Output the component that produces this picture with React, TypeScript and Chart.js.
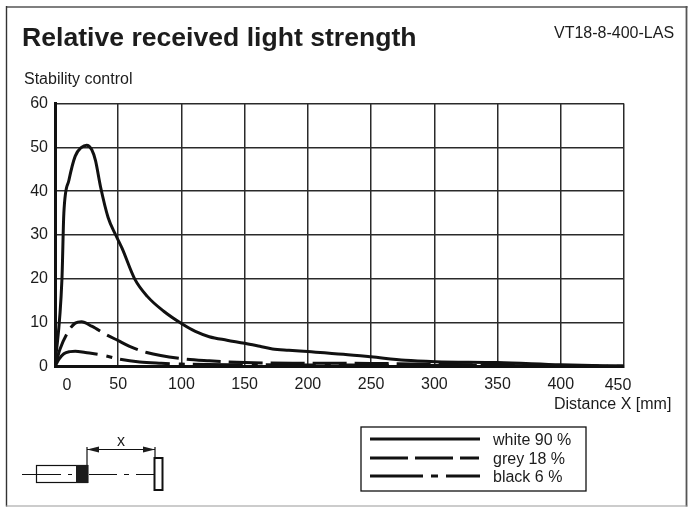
import React, { useEffect, useRef } from "react";
import { Chart, registerables, Plugin } from "chart.js";

Chart.register(...registerables);

const whiteX = [0, 5.5, 7, 11, 16, 21, 25, 29, 32, 36, 42, 48, 53, 63, 73, 86, 100, 111, 122, 136, 150, 162, 172, 185, 200, 228, 250, 277, 301, 350, 400, 450];
const whiteY = [0, 20, 35, 42.5, 48, 50, 50.5, 49.5, 47, 41, 34, 30, 27, 20, 16, 12.6, 9.8, 8, 6.8, 6, 5.3, 4.6, 4, 3.7, 3.4, 2.8, 2.2, 1.4, 1.1, 0.9, 0.4, 0.1];
const greyX = [0, 4, 10.5, 16, 21, 29, 41, 50, 59, 72.5, 100, 122, 150, 200, 250, 300, 350, 400, 450];
const greyY = [0, 4, 8, 9.9, 10.2, 9.2, 7.2, 5.9, 4.6, 3.2, 1.8, 1.3, 0.9, 0.75, 0.7, 0.5, 0.3, 0.15, 0.05];
const blackX = [0, 3, 7, 12, 16, 24, 36, 50, 67, 84, 100, 150, 200, 300, 450];
const blackY = [0, 1.6, 2.9, 3.4, 3.5, 3.2, 2.7, 1.75, 1.05, 0.75, 0.55, 0.4, 0.35, 0.25, 0.05];
const xTicks = [0, 50, 100, 150, 200, 250, 300, 350, 400, 450];
const yTicks = [0, 10, 20, 30, 40, 50, 60];
const seriesNames = ["white 90 %", "grey 18 %", "black 6 %"];
const titleText = "Relative received light strength";
const modelText = "VT18-8-400-LAS";
const yAxisText = "Stability control";
const xAxisText = "Distance X [mm]";

const INK = "#1c1c1c";
const GRID = "#2a2a2a";
const DASHES = [[], [34, 8], [50, 9, 6, 8]];
const LEGEND_DASHES = [[], [38, 7, 38, 7, 19], [53, 8, 7, 8, 34]];
const FONT = "Liberation Sans, Arial, sans-serif";

const zip = (xs: number[], ys: number[]) => xs.map((x, i) => ({ x, y: ys[i] }));

const segment = (c: CanvasRenderingContext2D, color: string, w: number, x1: number, y1: number, x2: number, y2: number) => {
  c.strokeStyle = color;
  c.lineWidth = w;
  c.beginPath();
  c.moveTo(x1, y1);
  c.lineTo(x2, y2);
  c.stroke();
};

const decor: Plugin<"line"> = {
  id: "decor",
  beforeDraw(chart) {
    const c = chart.ctx;
    c.save();
    c.fillStyle = "#fff";
    c.fillRect(0, 0, chart.width, chart.height);
    segment(c, "#555", 1.6, 6, 7, 687.5, 7);
    segment(c, "#333", 1.4, 6.5, 6, 6.5, 506.5);
    segment(c, "#555", 1.8, 686.5, 6, 686.5, 506.5);
    segment(c, "#999", 1.2, 6, 506, 687.5, 506);
    c.restore();
  },
  afterDraw(chart) {
    const c = chart.ctx;
    const sx = chart.scales.x;
    c.save();
    c.fillStyle = INK;
    c.textBaseline = "alphabetic";
    c.textAlign = "left";
    c.font = `bold 26.6px ${FONT}`;
    c.fillText(titleText, 22, 46);
    c.font = `16px ${FONT}`;
    c.fillText(modelText, 554, 38);
    c.fillText(yAxisText, 24, 84);
    c.fillText(xAxisText, 554, 409);
    // end tick labels sit inward of their gridlines
    c.textAlign = "center";
    c.fillText(String(xTicks[0]), sx.getPixelForValue(xTicks[0]) + 12, 389.5);
    c.fillText(String(xTicks[xTicks.length - 1]), sx.getPixelForValue(xTicks[xTicks.length - 1]) - 6, 389.5);

    // legend
    c.textAlign = "left";
    c.strokeStyle = "#111";
    c.lineWidth = 1.3;
    c.strokeRect(361, 427, 225, 64);
    const rows = [439, 458, 476];
    seriesNames.forEach((name, i) => {
      c.beginPath();
      c.setLineDash(LEGEND_DASHES[i]);
      c.lineWidth = 2.8;
      c.moveTo(370, rows[i]);
      c.lineTo(480, rows[i]);
      c.stroke();
      c.setLineDash([]);
      c.font = `16px ${FONT}`;
      c.fillText(name, 493, rows[i] + 6);
    });

    // sensor sketch
    c.strokeStyle = "#111";
    c.lineWidth = 1.2;
    c.strokeRect(36.5, 465.5, 51, 17);
    c.fillStyle = "#1c1c1c";
    c.fillRect(76, 465, 12.5, 18);
    c.beginPath();
    c.moveTo(22, 474.5); c.lineTo(61, 474.5);
    c.moveTo(68, 474.5); c.lineTo(72, 474.5);
    c.moveTo(89, 474.5); c.lineTo(117, 474.5);
    c.moveTo(124, 474.5); c.lineTo(129, 474.5);
    c.moveTo(136, 474.5); c.lineTo(154, 474.5);
    c.moveTo(87, 465); c.lineTo(87, 447);
    c.moveTo(155, 457); c.lineTo(155, 447);
    c.moveTo(87, 449.5); c.lineTo(155, 449.5);
    c.stroke();
    c.lineWidth = 2;
    c.strokeRect(154.5, 458, 8, 32);
    c.fillStyle = "#1c1c1c";
    c.beginPath();
    c.moveTo(87, 449.5); c.lineTo(99, 446.5); c.lineTo(99, 452.5); c.closePath();
    c.moveTo(155, 449.5); c.lineTo(143, 446.5); c.lineTo(143, 452.5); c.closePath();
    c.fill();
    c.textAlign = "center";
    c.font = `16px ${FONT}`;
    c.fillText("x", 121, 446);
    c.restore();
  },
};

export default function App() {
  const ref = useRef<HTMLCanvasElement>(null);
  useEffect(() => {
    document.body.style.margin = "0";
    const mk = (label: string, data: { x: number; y: number }[], dash: number[]) => ({
      label,
      data,
      borderColor: "#111",
      borderWidth: 3,
      borderDash: dash,
      pointRadius: 0,
      cubicInterpolationMode: "monotone" as const,
      fill: false,
    });
    const chart = new Chart(ref.current!, {
      type: "line",
      data: {
        datasets: [
          mk(seriesNames[0], zip(whiteX, whiteY), DASHES[0]),
          mk(seriesNames[1], zip(greyX, greyY), DASHES[1]),
          mk(seriesNames[2], zip(blackX, blackY), DASHES[2]),
        ],
      },
      options: {
        animation: false,
        responsive: false,
        devicePixelRatio: 1,
        layout: { padding: { left: 9, top: 103.5, right: 65, bottom: 100.5 } },
        plugins: { legend: { display: false }, title: { display: false }, tooltip: { enabled: false } },
        scales: {
          x: {
            type: "linear",
            min: 0,
            max: 450,
            afterBuildTicks: (s: any) => { s.ticks = xTicks.map((value) => ({ value })); },
            afterFit: (s: any) => { s.height = 40; },
            grid: { color: GRID, lineWidth: 1.5, drawTicks: false },
            border: { color: "#111", width: 3 },
            ticks: {
              maxRotation: 0,
              autoSkip: false,
              padding: 8,
              color: INK,
              font: { family: FONT, size: 16 },
              callback: (v: any) => (v === xTicks[0] || v === xTicks[xTicks.length - 1] ? "" : String(v)),
            },
          },
          y: {
            min: 0,
            max: 60,
            afterBuildTicks: (s: any) => { s.ticks = yTicks.map((value) => ({ value })); },
            afterFit: (s: any) => { s.width = 46; },
            grid: { color: GRID, lineWidth: 1.5, drawTicks: false },
            border: { color: "#111", width: 3 },
            ticks: { padding: 7, color: INK, font: { family: FONT, size: 16 } },
          },
        },
      },
      plugins: [decor],
    });
    return () => chart.destroy();
  }, []);
  return <canvas ref={ref} width={689} height={507} style={{ display: "block" }} />;
}
